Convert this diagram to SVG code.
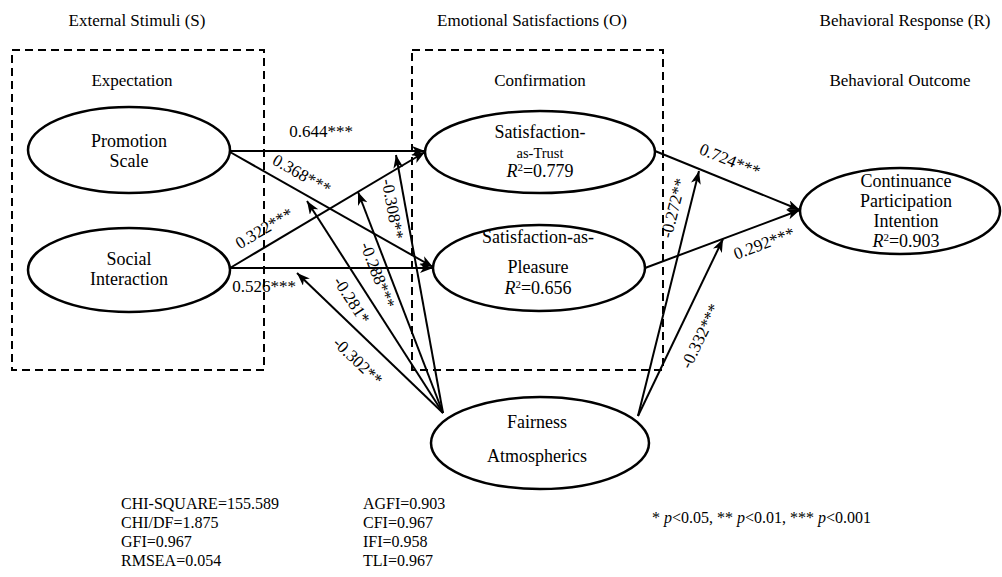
<svg xmlns="http://www.w3.org/2000/svg" width="1002" height="577" viewBox="0 0 1002 577" font-family="'Liberation Serif', 'DejaVu Serif', serif">
<defs>
<style>
text{font-family:'Liberation Serif','DejaVu Serif',serif;fill:#000;}
.h{font-size:17px;text-anchor:middle;}
.n{font-size:18px;text-anchor:middle;}
.s{font-size:14.5px;text-anchor:middle;}
.l{font-size:17px;text-anchor:middle;}
.st{font-size:16px;}
.box{fill:none;stroke:#000;stroke-width:2;stroke-dasharray:8,5;}
.el{fill:#fff;stroke:#000;stroke-width:2.5;}
.c{stroke:#000;stroke-width:2;fill:none;marker-end:url(#ah);}
</style>
<marker id="ah" markerUnits="userSpaceOnUse" markerWidth="14" markerHeight="12" refX="13" refY="5" orient="auto">
<path d="M0,0 L13,5 L0,10 L3.5,5 z" fill="#000"/>
</marker>
</defs>
<rect width="1002" height="577" fill="#fff"/>
<text class="h" x="137" y="26">External Stimuli (S)</text>
<text class="h" x="532" y="26">Emotional Satisfactions (O)</text>
<text class="h" x="905" y="26">Behavioral Response (R)</text>
<rect class="box" x="12" y="50" width="252" height="320"/>
<rect class="box" x="412" y="50" width="251" height="320"/>
<text class="h" x="132" y="86">Expectation</text>
<text class="h" x="540" y="86">Confirmation</text>
<text class="h" x="900" y="86">Behavioral Outcome</text>
<g id="connectors">
<line class="c" x1="230" y1="151" x2="425" y2="151"/>
<line class="c" x1="230" y1="152" x2="433" y2="267"/>
<line class="c" x1="230" y1="268" x2="425" y2="152"/>
<line class="c" x1="230" y1="268" x2="433" y2="268"/>
<line class="c" x1="443" y1="413" x2="297" y2="273"/>
<line class="c" x1="443" y1="413" x2="307" y2="201"/>
<line class="c" x1="443" y1="413" x2="358" y2="192"/>
<line class="c" x1="443" y1="413" x2="396" y2="155"/>
<line class="c" x1="638" y1="416" x2="699" y2="171"/>
<line class="c" x1="638" y1="416" x2="723" y2="239"/>
<line class="c" x1="655" y1="151" x2="800" y2="210"/>
<line class="c" x1="645" y1="268" x2="800" y2="210"/>
<text class="l" x="321" y="137">0.644***</text>
<text class="l" transform="translate(302,174) rotate(29.5)" y="6">0.368***</text>
<text class="l" transform="translate(264,228) rotate(-30.7)" y="6">0.322***</text>
<text class="l" x="264" y="292">0.526***</text>
<text class="l" transform="translate(358,361) rotate(44)" y="6">-0.302**</text>
<text class="l" transform="translate(352,300) rotate(57)" y="6">-0.281*</text>
<text class="l" transform="translate(378,275) rotate(69)" y="6">-0.288***</text>
<text class="l" transform="translate(393,209) rotate(80)" y="6">-0.308**</text>
<text class="l" transform="translate(673,208) rotate(-76)" y="6">-0.272**</text>
<text class="l" transform="translate(700,336) rotate(-64.3)" y="6">-0.332***</text>
<text class="l" transform="translate(730,160) rotate(22.1)" y="6">0.724***</text>
<text class="l" transform="translate(764,243) rotate(-20.5)" y="6">0.292***</text>
</g>
<g id="promotion">
<ellipse class="el" cx="129" cy="150" rx="101" ry="43"/>
<text class="n" x="129" y="147">Promotion</text>
<text class="n" x="129" y="167">Scale</text>
</g>
<g id="social">
<ellipse class="el" cx="129" cy="270" rx="101" ry="42"/>
<text class="n" x="129" y="265">Social</text>
<text class="n" x="129" y="285">Interaction</text>
</g>
<g id="trust">
<ellipse class="el" cx="540" cy="152" rx="115" ry="41"/>
<text class="n" x="540" y="138">Satisfaction-</text>
<text class="s" x="540" y="158">as-Trust</text>
<text class="n" x="540" y="177"><tspan font-style="italic">R</tspan><tspan font-size="11" dy="-6">2</tspan><tspan dy="6">=0.779</tspan></text>
</g>
<g id="pleasure">
<ellipse class="el" cx="539" cy="268" rx="106" ry="43"/>
<text class="n" x="538" y="243">Satisfaction-as-</text>
<text class="n" x="538" y="273">Pleasure</text>
<text class="n" x="538" y="294"><tspan font-style="italic">R</tspan><tspan font-size="11" dy="-6">2</tspan><tspan dy="6">=0.656</tspan></text>
</g>
<g id="continuance">
<ellipse class="el" cx="900" cy="211" rx="100" ry="43"/>
<text class="n" x="906" y="187">Continuance</text>
<text class="n" x="906" y="207">Participation</text>
<text class="n" x="906" y="227">Intention</text>
<text class="n" x="906" y="247"><tspan font-style="italic">R</tspan><tspan font-size="11" dy="-6">2</tspan><tspan dy="6">=0.903</tspan></text>
</g>
<g id="fairness">
<ellipse class="el" cx="540" cy="443" rx="109" ry="46"/>
<text class="n" x="537" y="428">Fairness</text>
<text class="n" x="537" y="462">Atmospherics</text>
</g>
<g id="fit">
<text class="st" x="121" y="509">CHI-SQUARE=155.589</text>
<text class="st" x="121" y="528">CHI/DF=1.875</text>
<text class="st" x="121" y="547">GFI=0.967</text>
<text class="st" x="121" y="566">RMSEA=0.054</text>
<text class="st" x="363" y="509">AGFI=0.903</text>
<text class="st" x="363" y="528">CFI=0.967</text>
<text class="st" x="363" y="547">IFI=0.958</text>
<text class="st" x="363" y="566">TLI=0.967</text>
<text class="st" x="652" y="523">* <tspan font-style="italic">p</tspan>&lt;0.05,  ** <tspan font-style="italic">p</tspan>&lt;0.01,  *** <tspan font-style="italic">p</tspan>&lt;0.001</text>
</g>
</svg>
